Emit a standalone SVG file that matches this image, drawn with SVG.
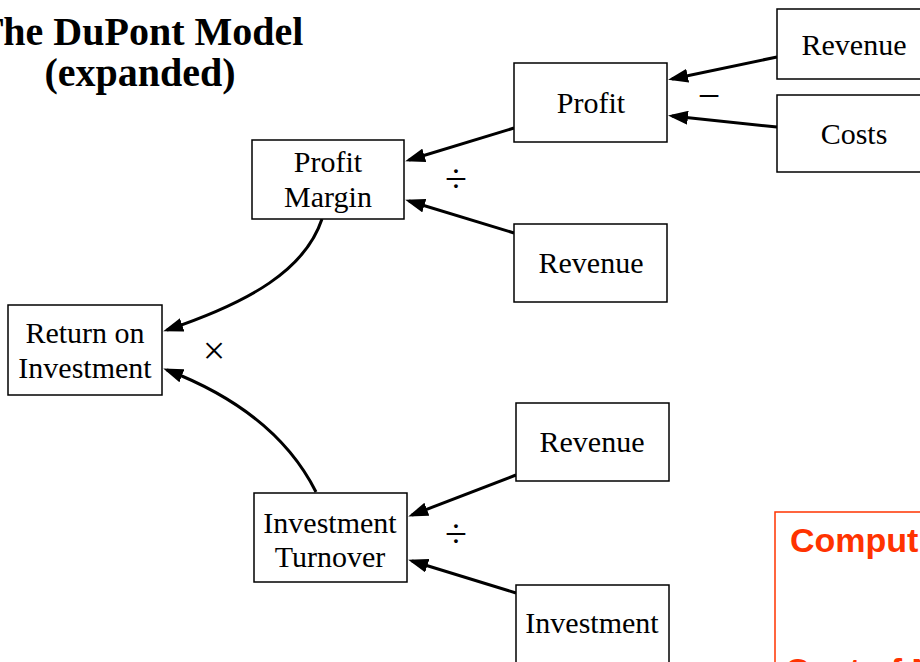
<svg xmlns="http://www.w3.org/2000/svg" width="920" height="662" viewBox="0 0 920 662">
<defs>
<marker id="arr" markerUnits="userSpaceOnUse" markerWidth="20" markerHeight="14" refX="16" refY="7" orient="auto">
<path d="M0,0 L20,7 L0,14 z" fill="#000"/>
</marker>
<style>
.box{fill:#fff;stroke:#000;stroke-width:1.5}
.t{font-family:"Liberation Serif","Times New Roman",serif;font-size:30px;fill:#000;text-anchor:middle}
.title{font-family:"Liberation Serif","Times New Roman",serif;font-size:40px;font-weight:bold;fill:#000;text-anchor:middle}
.con{fill:none;stroke:#000;stroke-width:3;marker-end:url(#arr)}
.op{font-family:"Liberation Serif","Times New Roman",serif;font-size:40px;fill:#000;text-anchor:middle}
.red{font-family:"Liberation Sans",Arial,sans-serif;font-size:34px;font-weight:bold;fill:#FF3300}
</style>
</defs>
<rect width="920" height="662" fill="#fff"/>
<g id="title">
<text class="title" x="140" y="45">The DuPont Model</text>
<text class="title" x="140" y="86">(expanded)</text>
</g>
<g id="connectors">
<path class="con" d="M777,57 L672,79"/>
<path class="con" d="M777,127 L672,116"/>
<path class="con" d="M514,128 L409,160"/>
<path class="con" d="M514,233 L409,201"/>
<path class="con" d="M322,219 C305,270 250,302 167,330"/>
<path class="con" d="M316,492 C290,440 240,398 167,370"/>
<path class="con" d="M516,475 L412,515"/>
<path class="con" d="M516,593 L412,561"/>
</g>
<g id="operators">
<text class="op" x="709" y="109">−</text>
<text class="op" x="456" y="192">÷</text>
<text class="op" x="214" y="364">×</text>
<text class="op" x="456" y="547">÷</text>
</g>
<g id="node-revenue-top">
<rect class="box" x="777" y="9" width="154" height="70"/>
<text class="t" x="854" y="55">Revenue</text>
</g>
<g id="node-costs">
<rect class="box" x="777" y="95" width="154" height="77"/>
<text class="t" x="854" y="144">Costs</text>
</g>
<g id="node-profit">
<rect class="box" x="514" y="63" width="153" height="79"/>
<text class="t" x="591" y="113">Profit</text>
</g>
<g id="node-profit-margin">
<rect class="box" x="252" y="140" width="152" height="79"/>
<text class="t" x="328" y="172">Profit</text>
<text class="t" x="328" y="207">Margin</text>
</g>
<g id="node-revenue-mid">
<rect class="box" x="514" y="224" width="153" height="78"/>
<text class="t" x="591" y="273">Revenue</text>
</g>
<g id="node-roi">
<rect class="box" x="8" y="305" width="154" height="90"/>
<text class="t" x="85" y="343">Return on</text>
<text class="t" x="85" y="378">Investment</text>
</g>
<g id="node-revenue-low">
<rect class="box" x="516" y="403" width="153" height="78"/>
<text class="t" x="592" y="452">Revenue</text>
</g>
<g id="node-investment-turnover">
<rect class="box" x="254" y="493" width="153" height="89"/>
<text class="t" x="330" y="533">Investment</text>
<text class="t" x="330" y="567">Turnover</text>
</g>
<g id="node-investment">
<rect class="box" x="516" y="585" width="153" height="90"/>
<text class="t" x="592" y="633">Investment</text>
</g>
<g id="note">
<rect x="775" y="512" width="180" height="180" fill="#fff" stroke="#FF3300" stroke-width="1.5"/>
<text class="red" x="790" y="552">Computing</text>
<text class="red" x="785" y="682">Cost of N</text>
</g>
</svg>
